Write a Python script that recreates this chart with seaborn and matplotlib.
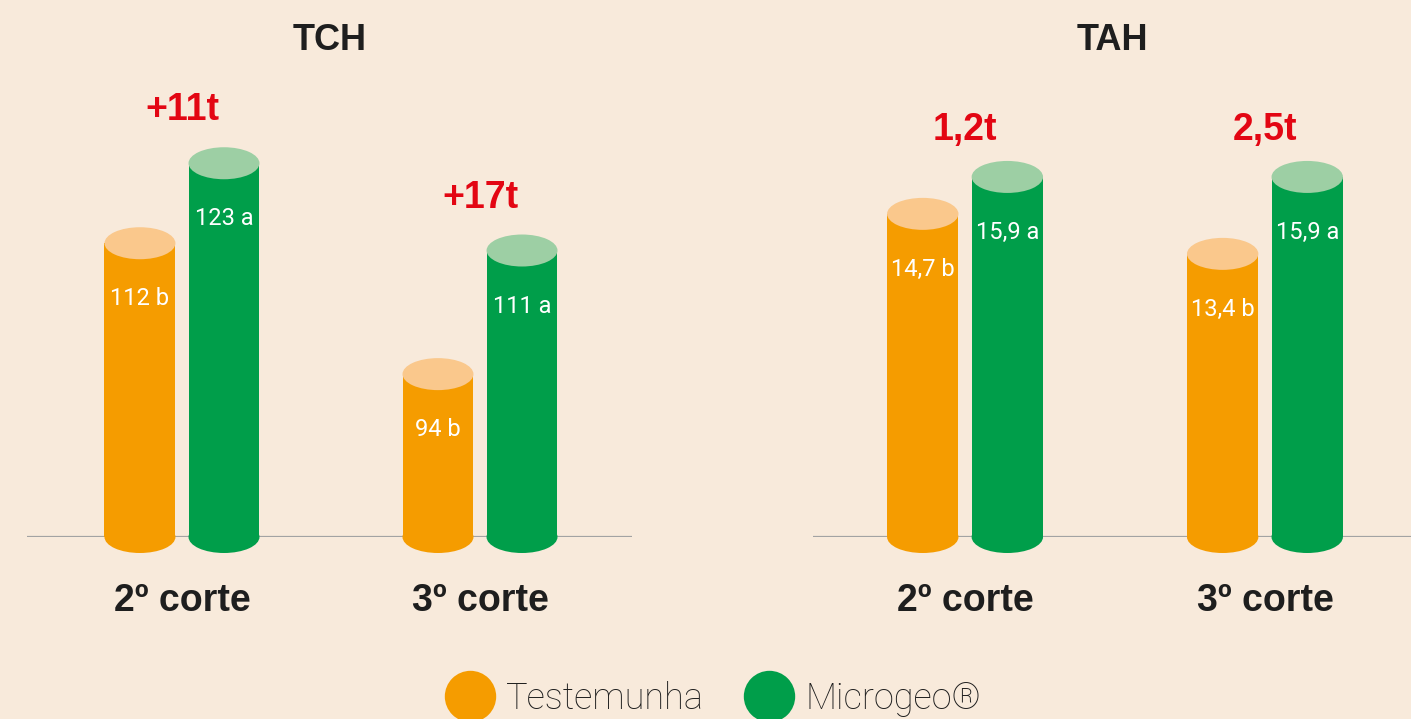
import matplotlib

matplotlib.use("Agg")
import matplotlib.pyplot as plt
from matplotlib.lines import Line2D
from matplotlib.patches import Ellipse
import pandas as pd
import seaborn as sns

# data
CORTES = ["2º corte", "3º corte"]
TRATAMENTOS = ["Testemunha", "Microgeo®"]
TCH_TESTEMUNHA = [112, 94]
TCH_MICROGEO = [123, 111]
TAH_TESTEMUNHA = [14.7, 13.4]
TAH_MICROGEO = [15.9, 15.9]
TCH_LETTERS = [["b", "b"], ["a", "a"]]
TAH_LETTERS = [["b", "b"], ["a", "a"]]
TCH_GAINS = ["+11t", "+17t"]
TAH_GAINS = ["1,2t", "2,5t"]

BG = "#F8EADB"
ORANGE, ORANGE_TOP = "#F59C00", "#FAC88C"
GREEN, GREEN_TOP = "#009E4A", "#9DCFA4"
RED = "#E30613"
DARK = "#1E1E1E"

W, H, DPI = 1411, 719, 100
BASE_PX = 537          # baseline, px from top
TOP_PX = 60            # axes top, px from top
ELL_PX = 32            # ellipse height in px


def fmt(v):
    return f"{v:g}".replace(".", ",")


def panel(fig, left_px, right_px, xlim, ylim, title, testemunha, microgeo, letters, gains, gain_off):
    ax = fig.add_axes([left_px / W, 1 - BASE_PX / H, (right_px - left_px) / W, (BASE_PX - TOP_PX) / H])
    df = pd.DataFrame({
        "corte": CORTES * 2,
        "tratamento": [TRATAMENTOS[0]] * 2 + [TRATAMENTOS[1]] * 2,
        "valor": list(testemunha) + list(microgeo),
    })
    sns.barplot(data=df, x="corte", y="valor", hue="tratamento", hue_order=TRATAMENTOS,
                palette=[ORANGE, GREEN], width=0.564, gap=0.156, saturation=1,
                legend=False, ax=ax)
    ax.set_xlim(*xlim)
    ax.set_ylim(*ylim)
    ax.set_facecolor("none")
    for s in ax.spines.values():
        s.set_visible(False)
    ax.set_yticks([])
    ax.set_xlabel("")
    ax.set_ylabel("")
    ax.tick_params(axis="x", length=0, pad=33)
    ax.set_xticks(range(len(CORTES)))
    ax.set_xticklabels(CORTES, fontsize=27, fontweight="bold", color=DARK, family="Liberation Sans")
    ax.set_title(title, fontsize=26, fontweight="bold", color=DARK, family="Liberation Sans",
                 pad=0, y=1.0 + 10 / (BASE_PX - TOP_PX))

    ypx = (BASE_PX - TOP_PX) / (ylim[1] - ylim[0])   # px per data unit
    ell_h = ELL_PX / ypx
    ax.axhline(ylim[0], color="#A3A3A3", lw=1.6, zorder=0)

    # cylinder look: ellipse caps on top and bottom of each seaborn bar
    bars = [p for p in ax.patches]
    for rect in bars:
        cx = rect.get_x() + rect.get_width() / 2
        val = rect.get_height()
        is_orange = rect.get_facecolor()[0] > 0.5
        body = ORANGE if is_orange else GREEN
        top = ORANGE_TOP if is_orange else GREEN_TOP
        ax.add_patch(Ellipse((cx, ylim[0]), rect.get_width(), ell_h, facecolor=body,
                             edgecolor="none", clip_on=False, zorder=3))
        ax.add_patch(Ellipse((cx, val), rect.get_width(), ell_h, facecolor=top,
                             edgecolor="none", clip_on=False, zorder=4))
        rect.set_zorder(3)
        gi = int(round(cx))
        ti = 0 if is_orange else 1
        ax.annotate(f"{fmt(val)} {letters[ti][gi]}", (cx, val), xytext=(0, -40),
                    textcoords="offset points", ha="center", va="center",
                    color="white", fontsize=17, family="Roboto", zorder=5)

    for i, g in enumerate(gains):
        ymax = max(testemunha[i], microgeo[i])
        ax.annotate(g, (i, ymax), xytext=(0, gain_off), textcoords="offset points",
                    ha="center", va="center", color=RED, fontsize=27, fontweight="bold",
                    family="Liberation Sans", annotation_clip=False)
    return ax


fig = plt.figure(figsize=(W / DPI, H / DPI), dpi=DPI)
fig.patch.set_facecolor(BG)

panel(fig, 27, 632, (-0.52, 1.51), (71.6, 137.2), "TCH",
      TCH_TESTEMUNHA, TCH_MICROGEO, TCH_LETTERS, TCH_GAINS, 38)
panel(fig, 813, 1411, (-0.507, 1.487), (4.2, 19.7), "TAH",
      TAH_TESTEMUNHA, TAH_MICROGEO, TAH_LETTERS, TAH_GAINS, 34)

handles = [Line2D([], [], marker="o", ls="", markersize=37, markerfacecolor=c, markeredgecolor="none")
           for c in (ORANGE, GREEN)]
leg = fig.legend(handles, TRATAMENTOS, loc="center", bbox_to_anchor=(0.506, 0.028), ncol=2,
                 frameon=False, handletextpad=0.35, columnspacing=1.15, handlelength=1.3,
                 prop={"family": "Roboto", "size": 26, "weight": "light"})
for t in leg.get_texts():
    t.set_color(DARK)

fig.savefig("out.png", dpi=DPI, facecolor=BG)
